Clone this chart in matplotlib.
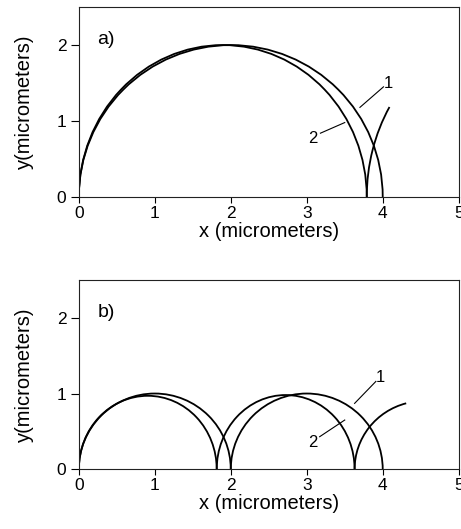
import matplotlib
matplotlib.use('agg')
import matplotlib.pyplot as plt
from matplotlib.patches import Arc

plt.rcParams['font.family'] = ['Liberation Sans', 'DejaVu Sans']

# arcs of each trajectory: start x, width, height, (theta1, theta2)
a1_start = [0.0]
a1_width = [4.0]
a1_height = [4.0]
a1_theta = [(0, 180)]

a2_start = [0.0, 3.79]
a2_width = [3.79, 3.8]
a2_height = [4.0, 4.4]
a2_theta = [(0, 180), (143.5, 180)]

b1_start = [0.0, 2.0]
b1_width = [2.0, 2.0]
b1_height = [2.0, 2.0]
b1_theta = [(0, 180), (0, 180)]

b2_start = [0.0, 1.815, 3.63]
b2_width = [1.815, 1.815, 1.815]
b2_height = [1.94, 1.96, 1.8]
b2_theta = [(0, 180), (0, 180), (104.7, 180)]

# curve labels and leader lines
a_lab_txt = ['1', '2']
a_lab_xy = [(4.07, 1.5), (3.08, 0.77)]
a_lead = [((4.01, 3.70), (1.45, 1.18)), ((3.18, 3.50), (0.84, 0.98))]

b_lab_txt = ['1', '2']
b_lab_xy = [(3.97, 1.21), (3.08, 0.35)]
b_lead = [((3.91, 3.63), (1.16, 0.87)), ((3.17, 3.50), (0.43, 0.65))]

xticks = [0, 1, 2, 3, 4, 5]
yticks = [0, 1, 2]


def draw_arcs(ax, starts, widths, heights, thetas):
    for s, w, h, (t1, t2) in zip(starts, widths, heights, thetas):
        ax.add_patch(Arc((s + w / 2, 0), w, h, theta1=t1, theta2=t2,
                         color='black', lw=1.3))


def setup(ax, tag):
    ax.set_xlim(0, 5)
    ax.set_ylim(0, 2.5)
    ax.set_xticks(xticks)
    ax.set_yticks(yticks)
    ax.tick_params(axis='x', direction='out', length=4, width=0.8, pad=2.5, labelsize=12.5)
    ax.tick_params(axis='y', direction='out', length=6, width=0.8, pad=3, labelsize=12.5)
    for sp in ax.spines.values():
        sp.set_linewidth(0.8)
        sp.set_color('#222222')
    ax.set_xlabel('x (micrometers)', fontsize=14.5)
    ax.set_ylabel('y(micrometers)', fontsize=14.5)
    ax.xaxis.set_label_coords(0.5, -0.13)
    ax.yaxis.set_label_coords(-0.118, 0.5)
    ax.text(0.36, 2.07, tag, fontsize=14, ha='center', va='center')


fig = plt.figure(figsize=(4.61, 5.29), dpi=100)
ax1 = fig.add_axes([0.171, 0.6276, 0.824, 0.359])
ax2 = fig.add_axes([0.171, 0.1129, 0.824, 0.358])

draw_arcs(ax1, a1_start, a1_width, a1_height, a1_theta)
draw_arcs(ax1, a2_start, a2_width, a2_height, a2_theta)
setup(ax1, 'a)')
for t, (x, y) in zip(a_lab_txt, a_lab_xy):
    ax1.text(x, y, t, fontsize=12, ha='center', va='center')
for xs, ys in a_lead:
    ax1.plot(xs, ys, color='black', lw=0.8)

draw_arcs(ax2, b1_start, b1_width, b1_height, b1_theta)
draw_arcs(ax2, b2_start, b2_width, b2_height, b2_theta)
setup(ax2, 'b)')
for t, (x, y) in zip(b_lab_txt, b_lab_xy):
    ax2.text(x, y, t, fontsize=12, ha='center', va='center')
for xs, ys in b_lead:
    ax2.plot(xs, ys, color='black', lw=0.8)

fig.savefig('out.png', dpi=100)
